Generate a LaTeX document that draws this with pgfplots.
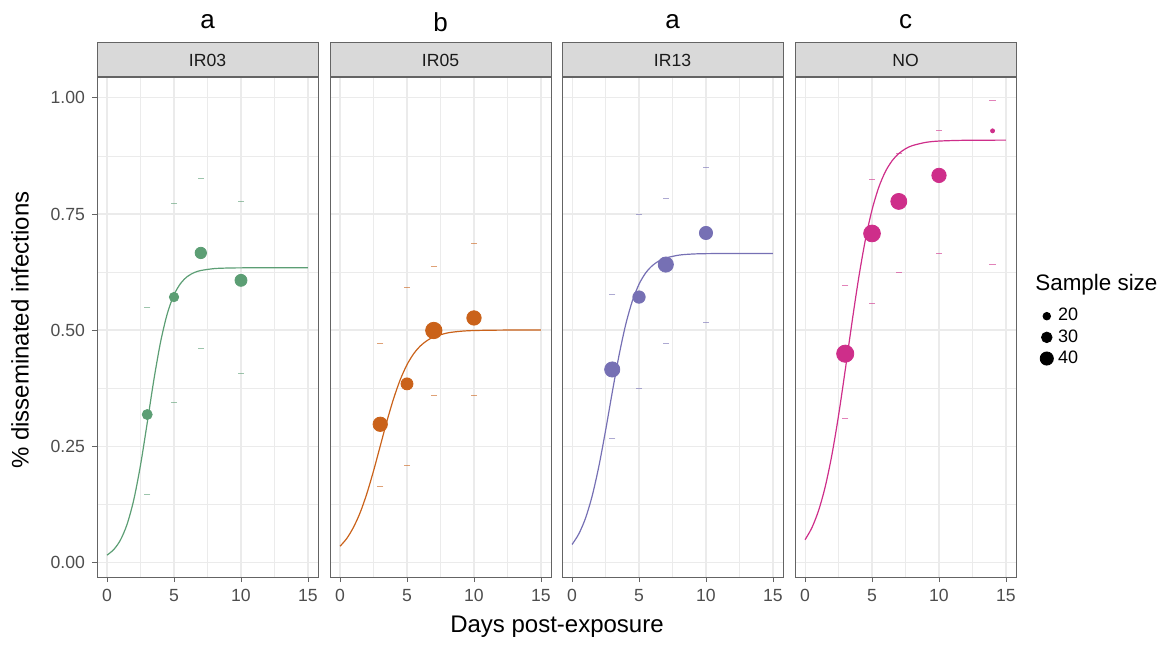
\documentclass[border=0pt]{standalone}
\usepackage{fontspec}
\setmainfont{Liberation Sans}
\usepackage{pgfplots}
\pgfplotsset{compat=1.18}

\definecolor{cgreen}{RGB}{92,158,116}
\definecolor{corange}{RGB}{202,98,26}
\definecolor{cpurple}{RGB}{118,112,180}
\definecolor{cpink}{RGB}{206,46,138}
\definecolor{gridgray}{RGB}{235,235,235}
\definecolor{bordergray}{RGB}{100,100,100}
\definecolor{stripgray}{RGB}{217,217,217}
\definecolor{labgray}{RGB}{77,77,77}

\pgfplotsset{
  facet/.style={
    scale only axis, width=110.5pt, height=250pt,
    anchor=south west, at={(#1,33.5pt)},
    xmin=-0.75, xmax=15.75, ymin=-0.032, ymax=1.045,
    xtick={0,5,10,15}, xticklabels={0,5,10,15},
    ytick={0,0.25,0.5,0.75,1},
    minor xtick={2.5,7.5,12.5}, minor ytick={0.125,0.375,0.625,0.875},
    grid=both,
    major grid style={gridgray, line width=0.55pt},
    minor grid style={gridgray, line width=0.3pt},
    minor tick length=0pt, major tick length=2.5pt,
    tick align=outside, tick pos=left,
    tick style={bordergray, line width=0.45pt},
    axis line style={bordergray, line width=0.5pt},
    ticklabel style={font=\fontsize{8.8}{10}\selectfont, text=labgray},
  },
  pts/.style={scatter, only marks, mark=*, point meta=\thisrow{r},
    scatter/use mapped color={draw=#1, fill=#1},
    visualization depends on={\thisrow{r} \as \rsize},
    scatter/@pre marker code/.append style={/tikz/mark size=\rsize pt}},
  bars/.style={only marks, mark=-, mark size=1.6pt, #1, opacity=0.6,
    mark options={line width=0.45pt}},
  fit/.style={no marks, smooth, #1, line width=0.6pt},
}

\newcommand{\strip}[3]{%
  \draw[bordergray, line width=0.5pt, fill=stripgray] (#1.north west) rectangle ([yshift=17pt]#1.north east);
  \node[font=\fontsize{8.8}{10}\selectfont, text={rgb,255:red,26;green,26;blue,26}] at ([yshift=8.5pt]#1.north) {#2};
  \node[font=\fontsize{13}{15}\selectfont] at ([yshift=27.5pt]#1.north) {#3};
}

\begin{document}
\begin{tikzpicture}
\useasboundingbox (0,0) rectangle (581pt,322pt);

% IR03
\begin{axis}[facet=48.5pt, name=ax1, yticklabels={0.00,0.25,0.50,0.75,1.00}]
\addplot[fit=cgreen] table {
0 0.0152
0.5 0.0271
1 0.0477
1.5 0.0819
2 0.1349
2.5 0.2092
3 0.2999
3.5 0.3935
4 0.4747
4.5 0.5354
5 0.5758
5.5 0.6007
6 0.6153
6.5 0.6236
7 0.6282
8 0.6323
9 0.6335
10 0.6339
12 0.634
15 0.634
};
\addplot[bars=cgreen] table {
3 0.548
3 0.146
5 0.773
5 0.344
7 0.827
7 0.461
10 0.778
10 0.406
};
\addplot[pts=cgreen] table {
x y r
3 0.318 2.5
5 0.571 2.35
7 0.666 2.85
10 0.607 3.0
};
\end{axis}
\strip{ax1}{IR03}{a}

% IR05
\begin{axis}[facet=165pt, name=ax2, yticklabels={}, ytick style={draw=none}]
\addplot[fit=corange] table {
0 0.0342
0.5 0.0510
1 0.0749
1.5 0.1066
2 0.1476
2.5 0.1965
3 0.2500
3.5 0.3036
4 0.3524
4.5 0.3934
5 0.4254
5.5 0.4490
6 0.4658
6.5 0.4773
7 0.4851
8 0.4936
9 0.4973
10 0.4989
12 0.4998
15 0.5
};
\addplot[bars=corange] table {
3 0.471
3 0.164
5 0.592
5 0.209
7 0.638
7 0.360
10 0.687
10 0.360
};
\addplot[pts=corange] table {
x y r
3 0.297 3.6
5 0.384 3.0
7 0.499 4.1
10 0.526 3.6
};
\end{axis}
\strip{ax2}{IR05}{b}

% IR13
\begin{axis}[facet=281pt, name=ax3, yticklabels={}, ytick style={draw=none}]
\addplot[fit=cpurple] table {
0 0.0381
0.5 0.0606
1 0.0943
1.5 0.1424
2 0.2062
2.5 0.2830
3 0.3656
3.5 0.4443
4 0.5111
4.5 0.5623
5 0.5987
5.5 0.6231
6 0.6389
6.5 0.6490
7 0.6552
8 0.6614
9 0.6637
10 0.6645
12 0.6649
15 0.665
};
\addplot[bars=cpurple] table {
3 0.577
3 0.267
5 0.748
5 0.374
7 0.783
7 0.471
10 0.850
10 0.516
};
\addplot[pts=cpurple] table {
x y r
3 0.415 3.8
5 0.571 3.1
7 0.641 3.8
10 0.709 3.3
};
\end{axis}
\strip{ax3}{IR13}{a}

% NO
\begin{axis}[facet=397.5pt, name=ax4, yticklabels={}, ytick style={draw=none},
  legend style={at={(1.104,0.546)}, anchor=north west, draw=none, fill=none,
    font=\fontsize{9}{10}\selectfont, inner sep=0pt, row sep=-1.2pt},
  legend cell align=left]
\addplot[fit=cpink, forget plot] table {
0 0.0483
0.5 0.0735
1 0.1103
1.5 0.1617
2 0.2304
2.5 0.3158
3 0.4137
3.5 0.5156
4 0.6114
4.5 0.6937
5 0.7588
5.5 0.8071
6 0.8413
6.5 0.8646
7 0.8802
7.5 0.8904
8 0.8971
9 0.9041
10 0.9070
12 0.9087
15 0.909
};
\addplot[bars=cpink, forget plot] table {
3 0.595
3 0.309
5 0.824
5 0.557
7 0.881
7 0.625
10 0.929
10 0.664
14 0.995
14 0.641
};
\addplot[pts=cpink, forget plot] table {
x y r
3 0.449 4.3
5 0.708 4.2
7 0.777 4.0
10 0.833 3.6
14 0.929 1.0
};
\addlegendimage{legend image code/.code={\path (-3.5pt,0) (3.5pt,0); \fill[black] (0,0) circle (1.9pt);}}
\addlegendentry{20}
\addlegendimage{legend image code/.code={\path (-3.5pt,0) (3.5pt,0); \fill[black] (0,0) circle (2.65pt);}}
\addlegendentry{30}
\addlegendimage{legend image code/.code={\path (-3.5pt,0) (3.5pt,0); \fill[black] (0,0) circle (3.3pt);}}
\addlegendentry{40}
\end{axis}
\strip{ax4}{NO}{c}

\node[rotate=90, font=\fontsize{12}{14}\selectfont] at (10pt,157pt) {\% disseminated infections};
\node[anchor=base, font=\fontsize{12}{14}\selectfont] at (278.5pt,6pt) {Days post-exposure};
\node[anchor=west, inner sep=0pt, font=\fontsize{11.2}{13}\selectfont] at (517.5pt,179.5pt) {Sample size};
\end{tikzpicture}
\end{document}
